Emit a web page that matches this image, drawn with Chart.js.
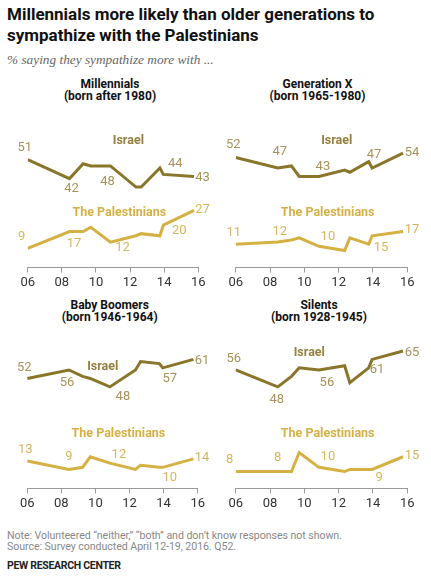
<!DOCTYPE html>
<html><head><meta charset="utf-8">
<script src="https://cdn.jsdelivr.net/npm/chart.js@4.4.1/dist/chart.umd.min.js"></script>
<style>
body{margin:0;width:431px;height:578px;background:#fff;position:relative;overflow:hidden;font-family:Roboto,"Liberation Sans",sans-serif;}
.t{position:absolute;white-space:nowrap;}
#title{left:7px;top:4px;font-size:17px;line-height:21px;font-weight:bold;color:#111;letter-spacing:0px;}
#sub{left:7px;top:52px;font-size:13.3px;line-height:16px;font-style:italic;font-family:"Liberation Serif",serif;color:#666;}
.pt{width:200px;text-align:center;font-size:12px;line-height:12px;font-weight:bold;color:#111;}
.note{left:7px;font-size:10.6px;line-height:12px;color:#888;letter-spacing:-0.05px;}
#pew{left:7px;top:560px;font-size:10.5px;line-height:12px;color:#222;font-weight:bold;letter-spacing:-0.3px;}
.cv{position:absolute;}
</style></head><body>
<div class="t" id="title">Millennials more likely than older generations to<br>sympathize with the Palestinians</div>
<div class="t" id="sub">% saying they sympathize more with ...</div>
<div class="t pt" style="left:10px;top:78px;">Millennials<br>(born after 1980)</div>
<div class="t pt" style="left:217.5px;top:78px;">Generation X<br>(born 1965-1980)</div>
<div class="t pt" style="left:9.7px;top:299px;">Baby Boomers<br>(born 1946-1964)</div>
<div class="t pt" style="left:219px;top:299px;">Silents<br>(born 1928-1945)</div>
<canvas id="c1" class="cv" width="215" height="197" style="left:0px;top:103px"></canvas>
<canvas id="c2" class="cv" width="216" height="197" style="left:215px;top:103px"></canvas>
<canvas id="c3" class="cv" width="215" height="197" style="left:0px;top:324px"></canvas>
<canvas id="c4" class="cv" width="216" height="197" style="left:215px;top:324px"></canvas>
<div class="t note" style="top:529.5px;">Note: Volunteered “neither,” “both” and don’t know responses not shown.</div>
<div class="t note" style="top:541px;">Source: Survey conducted April 12-19, 2016. Q52.</div>
<div class="t" id="pew">PEW RESEARCH CENTER</div>
<script>
// ---- data ----
const surveyYears = [2006.0, 2008.45, 2009.25, 2009.7, 2010.85, 2012.35, 2012.65, 2013.75, 2013.95, 2015.75];
const tickYears = [2006, 2008, 2010, 2012, 2014, 2016];
const tickLabels = ['06', '08', '10', '12', '14', '16'];
const panelTitles = ['Millennials', 'Generation X', 'Baby Boomers', 'Silents'];
const millennialsIsrael = [51, 42, 49, 48, 48, 38, 38, 47, 44, 43];
const millennialsPalestinians = [9, 17, 17, 19, 12, 15, 16, 15, 20, 27];
const genXIsrael = [52, 47, 48, 43, 43, 46, 45, 50, 47, 54];
const genXPalestinians = [11, 12, 13, 14, 10, 8, 14, 11, 15, 17];
const boomersIsrael = [52, 56, 53, 52, 48, 56, 60, 59, 57, 61];
const boomersPalestinians = [13, 9, 10, 15, 12, 9, 11, 10, 10, 14];
const silentsIsrael = [56, 48, 53, 57, 56, 58, 50, 57, 61, 65];
const silentsPalestinians = [8, 8, 8, 17, 10, 8, 9, 9, 9, 15];

// ---- styles / layout ----
const ISR = '#8a762b', PAL = '#d5b042';
const ISR_TXT = '#a6925a', PAL_TXT = '#d6b65c';
const ISR_NAME = '#93803e', PAL_NAME = '#d5b046';
const FONT = 'Roboto, "Liberation Sans", sans-serif';
const Y_MAX = 73;

// label placement: [pointIndex, dx, dy]
const panels = [
  {id:'c1', isr:millennialsIsrael, pal:millennialsPalestinians, padL:27.7, padR:16.7,
   isrLab:[[0,-3,-12],[1,2,10],[4,-3,16],[8,12,-11],[9,8.5,1]],
   palLab:[[0,-6,-12],[1,4.5,12.5],[4,12,6],[8,16,6],[9,8.5,-1]],
   isrName:[2011.9,59.7], palName:[2011.37,26.0]},
  {id:'c2', isr:genXIsrael, pal:genXPalestinians, padL:20.7, padR:23.7,
   isrLab:[[0,-2.4,-13],[1,2,-16],[4,4,-10],[8,2,-13],[9,9,0]],
   palLab:[[0,-2,-11.5],[1,2,-10.5],[4,9,-10],[8,9,12],[9,9,-2]],
   isrName:[2011.89,59.7], palName:[2011.36,26.0]},
  {id:'c3', isr:boomersIsrael, pal:boomersPalestinians, padL:27.2, padR:17.3,
   isrLab:[[0,-3,-11],[1,-2,13],[4,13,10],[8,7,11],[9,8.5,1]],
   palLab:[[0,-2,-11.5],[1,0,-12.5],[4,9,-8.5],[8,7,10],[9,8.5,-1]],
   isrName:[2010.43,57.6], palName:[2011.35,25.9]},
  {id:'c4', isr:silentsIsrael, pal:silentsPalestinians, padL:20.7, padR:23.7,
   isrLab:[[0,-2,-11],[1,-1,12.5],[4,8,13],[8,5,10.5],[9,9,2]],
   palLab:[[0,-6,-12],[1,0,-14],[4,9,-11],[8,7,8],[9,9,-1]],
   isrName:[2010.29,63.9], palName:[2011.36,25.9]}
];

const labelPlugin = {
  id: 'pointLabels',
  afterDatasetsDraw(chart, args, opts) {
    const p = opts.panel;
    const ctx = chart.ctx, xs = chart.scales.x, ys = chart.scales.y;
    ctx.save();
    ctx.textAlign = 'center';
    ctx.textBaseline = 'middle';
    ctx.font = '13px ' + FONT;
    const draw = (vals, labs, color) => {
      ctx.fillStyle = color;
      labs.forEach(([i, dx, dy]) => {
        ctx.fillText(String(vals[i]), xs.getPixelForValue(surveyYears[i]) + dx, ys.getPixelForValue(vals[i]) + dy);
      });
    };
    draw(p.isr, p.isrLab, ISR_TXT);
    draw(p.pal, p.palLab, PAL_TXT);
    ctx.font = 'bold 12.5px ' + FONT;
    ctx.fillStyle = ISR_NAME;
    ctx.fillText('Israel', xs.getPixelForValue(p.isrName[0]), ys.getPixelForValue(p.isrName[1]));
    ctx.fillStyle = PAL_NAME;
    ctx.fillText('The Palestinians', xs.getPixelForValue(p.palName[0]), ys.getPixelForValue(p.palName[1]));
    ctx.restore();
  }
};

Chart.defaults.font.family = FONT;

panels.forEach(p => {
  const pts = vals => vals.map((v, i) => ({x: surveyYears[i], y: v}));
  new Chart(document.getElementById(p.id), {
    type: 'line',
    data: {
      datasets: [
        {label: 'Israel', data: pts(p.isr), borderColor: ISR, borderWidth: 3, pointRadius: 0, tension: 0, fill: false, borderJoinStyle: 'miter'},
        {label: 'The Palestinians', data: pts(p.pal), borderColor: PAL, borderWidth: 3, pointRadius: 0, tension: 0, fill: false, borderJoinStyle: 'miter'}
      ]
    },
    options: {
      responsive: false,
      animation: false,
      events: [],
      layout: {padding: {left: p.padL, right: p.padR, top: 10, bottom: 10.5}},
      plugins: {legend: {display: false}, tooltip: {enabled: false}, pointLabels: {panel: p}},
      scales: {
        x: {
          type: 'linear', min: 2006, max: 2016,
          afterBuildTicks: s => { s.ticks = tickYears.map(v => ({value: v})); },
          afterFit: s => { s.height = 22; },
          ticks: {
            autoSkip: false, maxRotation: 0, padding: 2, color: '#333',
            font: {size: 13},
            callback: (v, i) => tickLabels[i]
          },
          grid: {display: true, drawOnChartArea: false, drawTicks: true, tickLength: 5, color: '#9a9a9a'},
          border: {display: true, color: '#9a9a9a', width: 1}
        },
        y: {display: false, min: 0, max: Y_MAX}
      }
    },
    plugins: [labelPlugin]
  });
});
</script>
</body></html>
